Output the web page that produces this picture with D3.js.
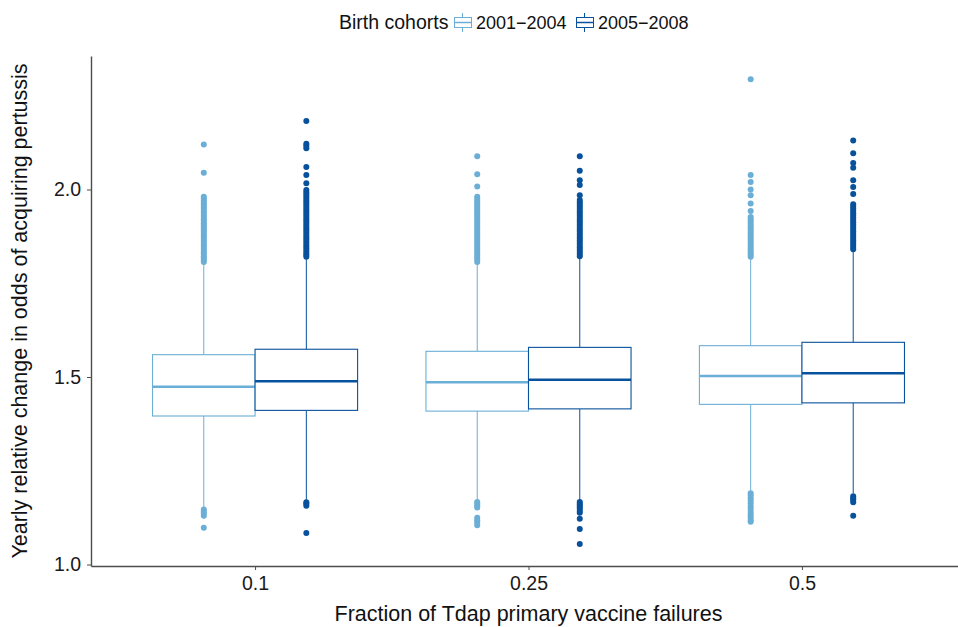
<!DOCTYPE html>
<html>
<head>
<meta charset="utf-8">
<script src="https://cdnjs.cloudflare.com/ajax/libs/d3/7.8.5/d3.min.js"></script>
<style>
  body { margin: 0; background: #fff; }
  svg text { font-family: "Liberation Sans", Arial, Helvetica, sans-serif; }
</style>
</head>
<body>
<div id="graph"></div>
<script>
// boxplot of yearly change in odds, by Tdap failure fraction and birth cohort

var fractions = ["0.1", "0.25", "0.5"];
var cohorts = ["2001\u22122004", "2005\u22122008"];
var cohortColors = ["#6baed6", "#08519c"];

// box stats per fraction: [whiskerLow, q1, median, q3, whiskerHigh]
var stats2001 = [
  [1.152, 1.396, 1.474, 1.5595, 1.803],
  [1.172, 1.409, 1.486, 1.5685, 1.805],
  [1.197, 1.427, 1.5025, 1.5835, 1.816]
];
var stats2005 = [
  [1.170, 1.411, 1.4885, 1.574, 1.814],
  [1.172, 1.415, 1.493, 1.579, 1.818],
  [1.190, 1.431, 1.510, 1.5925, 1.838]
];

// outliers
var out2001 = [
  [2.120, 2.045, 1.981, 1.976, 1.971, 1.965, 1.960, 1.954, 1.949, 1.943, 1.938, 1.932, 1.927,
   1.921, 1.916, 1.910, 1.905, 1.899, 1.894, 1.888, 1.883, 1.877, 1.872, 1.866, 1.861, 1.855,
   1.850, 1.844, 1.839, 1.833, 1.828, 1.822, 1.817, 1.811, 1.807,
   1.147, 1.141, 1.136, 1.130, 1.098],
  [2.089, 2.041, 2.008, 1.981, 1.975, 1.969, 1.963, 1.957, 1.951, 1.945, 1.939, 1.933, 1.927,
   1.921, 1.915, 1.909, 1.903, 1.897, 1.891, 1.885, 1.879, 1.873, 1.867, 1.861, 1.855, 1.849,
   1.843, 1.837, 1.831, 1.825, 1.819, 1.813, 1.807,
   1.167, 1.162, 1.157, 1.152, 1.125, 1.118, 1.112, 1.105],
  [2.294, 2.039, 2.020, 2.000, 1.985, 1.963, 1.943, 1.927, 1.921, 1.915, 1.909, 1.903, 1.897,
   1.891, 1.885, 1.879, 1.873, 1.867, 1.861, 1.855, 1.849, 1.843, 1.837, 1.831, 1.826, 1.821,
   1.190, 1.184, 1.177, 1.170, 1.163, 1.155, 1.148, 1.140, 1.133, 1.126, 1.119, 1.114]
];
var out2005 = [
  [2.183, 2.122, 2.117, 2.110, 2.060, 2.039, 2.017, 1.999, 1.993, 1.987, 1.981, 1.975, 1.969,
   1.963, 1.957, 1.951, 1.945, 1.939, 1.933, 1.927, 1.921, 1.915, 1.909, 1.903, 1.897, 1.891,
   1.885, 1.879, 1.873, 1.867, 1.861, 1.855, 1.849, 1.843, 1.837, 1.831, 1.826, 1.821,
   1.166, 1.162, 1.157, 1.084],
  [2.089, 2.050, 2.025, 2.012, 1.985, 1.972, 1.966, 1.960, 1.954, 1.948, 1.942, 1.936, 1.930,
   1.924, 1.918, 1.912, 1.906, 1.900, 1.894, 1.888, 1.882, 1.876, 1.870, 1.864, 1.858, 1.852,
   1.846, 1.840, 1.834, 1.828, 1.822,
   1.167, 1.162, 1.158, 1.153, 1.148, 1.143, 1.138, 1.122, 1.095, 1.055],
  [2.131, 2.097, 2.071, 2.058, 2.025, 2.007, 1.988, 1.961, 1.955, 1.949, 1.943, 1.937, 1.931,
   1.925, 1.919, 1.913, 1.907, 1.901, 1.895, 1.889, 1.883, 1.877, 1.871, 1.865, 1.859, 1.853,
   1.847, 1.841,
   1.182, 1.177, 1.172, 1.166, 1.130]
];

var yTicks = [1.0, 1.5, 2.0];

var svgWidth = 958, svgHeight = 627;
var margin = {top: 56, right: -8, bottom: 61, left: 91};

var svg = d3.select('#graph').append('svg')
  .attr("width", svgWidth)
  .attr("height", svgHeight);

var width = svgWidth - margin.left - margin.right;
var height = svgHeight - margin.top - margin.bottom;

var g = svg.append('g')
  .attr('transform', 'translate(' + margin.left + ',' + margin.top + ')');

var x = d3.scalePoint()
  .domain(fractions)
  .range([0, width])
  .padding(0.6);

var y = d3.scaleLinear()
  .domain([0.996, 2.356])
  .range([height, 0]);

var boxW = x.step() * 0.75 / 2;

var groups = [
  {stats: stats2001, out: out2001, color: cohortColors[0], off: -1},
  {stats: stats2005, out: out2005, color: cohortColors[1], off: 0}
];

groups.forEach(function(grp) {
  fractions.forEach(function(f, i) {
    var s = grp.stats[i];
    var x0 = x(f) + grp.off * boxW;
    var cx = x0 + boxW / 2;
    var box = g.append("g");

    // whiskers
    box.append("line")
      .attr("x1", cx).attr("x2", cx)
      .attr("y1", y(s[0])).attr("y2", y(s[1]))
      .attr("stroke", grp.color).attr("stroke-width", 1);
    box.append("line")
      .attr("x1", cx).attr("x2", cx)
      .attr("y1", y(s[3])).attr("y2", y(s[4]))
      .attr("stroke", grp.color).attr("stroke-width", 1);

    box.append("rect")
      .attr("x", x0)
      .attr("y", y(s[3]))
      .attr("width", boxW)
      .attr("height", y(s[1]) - y(s[3]))
      .attr("fill", "#fff")
      .attr("stroke", grp.color)
      .attr("stroke-width", 1.1);

    box.append("line")
      .attr("x1", x0).attr("x2", x0 + boxW)
      .attr("y1", y(s[2])).attr("y2", y(s[2]))
      .attr("stroke", grp.color).attr("stroke-width", 2.5);

    box.selectAll("circle")
      .data(grp.out[i])
      .enter().append("circle")
      .attr("cx", cx)
      .attr("cy", function(d) { return y(d); })
      .attr("r", 3)
      .attr("fill", grp.color);
  });
});

// axes
var yAxis = g.append("g")
  .call(d3.axisLeft(y).tickValues(yTicks).tickFormat(d3.format(".1f")).tickSize(4).tickSizeOuter(0).tickPadding(6));
var xAxis = g.append("g")
  .attr("transform", "translate(0," + height + ")")
  .call(d3.axisBottom(x).tickSize(4).tickSizeOuter(0).tickPadding(6));

[yAxis, xAxis].forEach(function(a) {
  a.select(".domain").attr("stroke", "#4d4d4d").attr("stroke-width", 1.4);
  a.selectAll(".tick line").attr("stroke", "#4d4d4d");
  a.selectAll(".tick text").attr("fill", "#1a1a1a").style("font-size", "19.5px");
});

svg.append("text")
  .attr("x", margin.left + x(fractions[1]))
  .attr("y", 621)
  .attr("text-anchor", "middle")
  .attr("fill", "#111")
  .style("font-size", "21.5px")
  .text("Fraction of Tdap primary vaccine failures");

svg.append("text")
  .attr("transform", "translate(27," + (margin.top + height / 2) + ") rotate(-90)")
  .attr("text-anchor", "middle")
  .attr("fill", "#111")
  .style("font-size", "21.5px")
  .text("Yearly relative change in odds of acquiring pertussis");

// legend
var legend = svg.append("g").attr("class", "legend");
legend.append("text")
  .attr("x", 339).attr("y", 29)
  .attr("fill", "#111")
  .style("font-size", "19.5px")
  .text("Birth cohorts");

var legendX = [454, 576];
cohorts.forEach(function(c, i) {
  var k = legend.append("g").attr("transform", "translate(" + legendX[i] + ",0)");
  k.append("line").attr("x1", 8.5).attr("x2", 8.5).attr("y1", 13).attr("y2", 32)
    .attr("stroke", cohortColors[i]).attr("stroke-width", 1);
  k.append("rect").attr("x", 0.5).attr("y", 17.5).attr("width", 17).attr("height", 10)
    .attr("fill", "#fff").attr("stroke", cohortColors[i]).attr("stroke-width", 1);
  k.append("line").attr("x1", 0.5).attr("x2", 17.5).attr("y1", 22.5).attr("y2", 22.5)
    .attr("stroke", cohortColors[i]).attr("stroke-width", 1.5);
  k.append("text")
    .attr("x", 22).attr("y", 29)
    .attr("fill", "#111")
    .style("font-size", "18px")
    .text(c);
});
</script>
</body>
</html>
